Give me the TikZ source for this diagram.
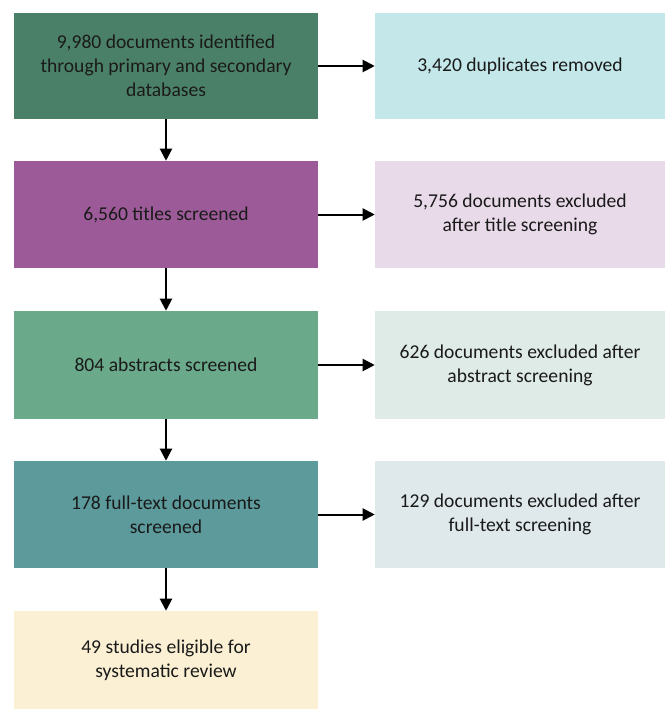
\documentclass[tikz,border=0pt]{standalone}
\usepackage{fontspec}
\setmainfont{Carlito}
\usetikzlibrary{arrows.meta}
\definecolor{cA}{HTML}{4B8068}
\definecolor{cB}{HTML}{9C5B98}
\definecolor{cC}{HTML}{6AA98A}
\definecolor{cD}{HTML}{5C9A9B}
\definecolor{cE}{HTML}{FBF0D4}
\definecolor{rA}{HTML}{C4E7E9}
\definecolor{rB}{HTML}{E9DAEA}
\definecolor{rC}{HTML}{DFEBE6}
\definecolor{rD}{HTML}{DFE9EB}
\definecolor{txt}{HTML}{1A1A1A}
\tikzset{
  box/.style={draw=none, inner sep=0pt, align=center, text=txt,
    font=\fontsize{14.7pt}{18pt}\selectfont},
  lbox/.style={box, minimum width=228pt},
  rbox/.style={box, minimum width=217.5pt},
  arr/.style={line width=1.5pt, -{Triangle[length=9pt,width=9pt]}}
}
\begin{document}
\begin{tikzpicture}[x=0.75pt,y=-0.75pt]
\useasboundingbox (0,0) rectangle (665,709);
\node[lbox, fill=cA, minimum height=79.5pt] (a) at (166,66) {9,980 documents identified\\through primary and secondary\\databases};
\node[rbox, fill=rA, minimum height=79.5pt] (ra) at (520,66) {3,420 duplicates removed};
\node[lbox, fill=cB, minimum height=80.25pt] (b) at (166,214.5) {6,560 titles screened};
\node[rbox, fill=rB, minimum height=80.25pt] (rb) at (520,214.5) {5,756 documents excluded\\after title screening};
\node[lbox, fill=cC, minimum height=81pt] (c) at (166,365) {804 abstracts screened};
\node[rbox, fill=rC, minimum height=81pt] (rc) at (520,365) {626 documents excluded after\\abstract screening};
\node[lbox, fill=cD, minimum height=80.25pt] (d) at (166,514.5) {178 full-text documents\\screened};
\node[rbox, fill=rD, minimum height=80.25pt] (rd) at (520,514.5) {129 documents excluded after\\full-text screening};
\node[lbox, fill=cE, minimum height=73.5pt] (e) at (166,660) {49 studies eligible for\\systematic review};
\draw[arr] (a) -- (b);
\draw[arr] (b) -- (c);
\draw[arr] (c) -- (d);
\draw[arr] (d) -- (e);
\draw[arr] (a) -- (ra);
\draw[arr] (b) -- (rb);
\draw[arr] (c) -- (rc);
\draw[arr] (d) -- (rd);
\end{tikzpicture}
\end{document}
